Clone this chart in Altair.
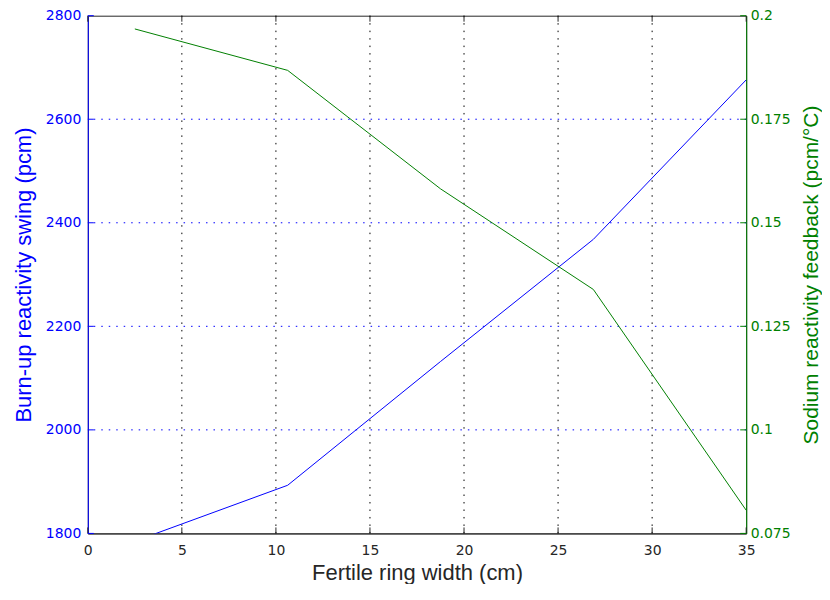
import altair as alt
import pandas as pd

# Data
width_cm = [2.5, 10.625, 18.75, 26.875, 35]
burnup_swing = [1785, 1893, 2132, 2368, 2676]
sodium_feedback = [0.1968, 0.1868, 0.1582, 0.1339, 0.0806]

x_ticks = [0, 5, 10, 15, 20, 25, 30, 35]
left_ticks = [1800, 2000, 2200, 2400, 2600, 2800]
right_ticks = [0.075, 0.1, 0.125, 0.15, 0.175, 0.2]

BLUE = "#0000ff"
GREEN = "#008000"
DARK = "#262626"
W, H = 660, 519
TICK = 6

df = pd.DataFrame({"w": width_cm, "swing": burnup_swing, "na": sodium_feedback})
xdf = pd.DataFrame({"x": x_ticks})
xgrid = pd.DataFrame({"x": x_ticks[1:-1]})
ldf = pd.DataFrame({"y": left_ticks})
lgrid = pd.DataFrame({"y": left_ticks[1:-1]})
rdf = pd.DataFrame({"y": right_ticks})

xscale = alt.Scale(domain=[0, 35], nice=False, zero=False)
lscale = alt.Scale(domain=[1800, 2800], nice=False, zero=False)
rscale = alt.Scale(domain=[0.075, 0.2], nice=False, zero=False)

x_axis = alt.Axis(
    values=x_ticks, title="Fertile ring width (cm)", grid=False, ticks=False,
    domainColor=DARK, labelColor=DARK, labelFont="DejaVu Sans", labelFontSize=14,
    labelPadding=10, labelFlush=False, labelOverlap=False, format="d",
    titleFont="Liberation Sans", titleFontSize=22, titleFontWeight="normal",
    titleColor=DARK, titlePadding=5,
)
l_axis = alt.Axis(
    values=left_ticks, title="Burn-up reactivity swing (pcm)", grid=False, ticks=False,
    domainColor=BLUE, labelColor=BLUE, labelFont="DejaVu Sans", labelFontSize=14,
    labelPadding=7, labelFlush=False, labelOverlap=False, format="d",
    titleFont="Liberation Sans", titleFontSize=22, titleFontWeight="normal",
    titleColor=BLUE, titlePadding=10,
)
r_axis = alt.Axis(
    values=right_ticks, title="Sodium reactivity feedback (pcm/°C)", orient="right",
    grid=False, ticks=False,
    domainColor=GREEN, labelColor=GREEN, labelFont="DejaVu Sans", labelFontSize=14,
    labelPadding=4, labelFlush=False, labelOverlap=False,
    titleFont="Liberation Sans", titleFontSize=21, titleFontWeight="normal",
    titleColor=GREEN, titlePadding=10, titleAngle=270, titleBaseline="top",
    format=".3~g",
)

dash = [1.5, 6]

vgrid = alt.Chart(xgrid).mark_rule(color="black", strokeDash=dash, strokeWidth=1).encode(
    x=alt.X("x:Q", scale=xscale, axis=x_axis)
)
hgrid = alt.Chart(lgrid).mark_rule(color=BLUE, strokeDash=dash, strokeWidth=1).encode(
    y=alt.Y("y:Q", scale=lscale, axis=l_axis)
)
bottom_ticks = alt.Chart(xdf).mark_rule(color=DARK).encode(
    x=alt.X("x:Q", scale=xscale, axis=x_axis), y=alt.value(H), y2=alt.value(H - TICK)
)
top_ticks = alt.Chart(xdf).mark_rule(color=DARK).encode(
    x=alt.X("x:Q", scale=xscale, axis=x_axis), y=alt.value(0), y2=alt.value(TICK)
)
left_tick_marks = alt.Chart(ldf).mark_rule(color=BLUE).encode(
    y=alt.Y("y:Q", scale=lscale, axis=l_axis), x=alt.value(0), x2=alt.value(TICK)
)
blue_line = alt.Chart(df).mark_line(color=BLUE, strokeWidth=1, clip=True).encode(
    x=alt.X("w:Q", scale=xscale, axis=x_axis),
    y=alt.Y("swing:Q", scale=lscale, axis=l_axis),
)
left_group = alt.layer(vgrid, hgrid, bottom_ticks, top_ticks, left_tick_marks, blue_line)

right_tick_marks = alt.Chart(rdf).mark_rule(color=GREEN).encode(
    y=alt.Y("y:Q", scale=rscale, axis=r_axis), x=alt.value(W - TICK), x2=alt.value(W)
)
green_line = alt.Chart(df).mark_line(color=GREEN, strokeWidth=1, clip=True).encode(
    x=alt.X("w:Q", scale=xscale, axis=x_axis),
    y=alt.Y("na:Q", scale=rscale, axis=r_axis),
)
right_group = alt.layer(right_tick_marks, green_line)

chart = (
    alt.layer(left_group, right_group)
    .resolve_scale(y="independent")
    .properties(width=W, height=H, padding={"left": 4, "top": 0, "right": 0, "bottom": 0},
                background="white")
    .configure_view(stroke=DARK, strokeWidth=1)
)

chart.save("out.html", embed_options={"renderer": "svg", "actions": False})
